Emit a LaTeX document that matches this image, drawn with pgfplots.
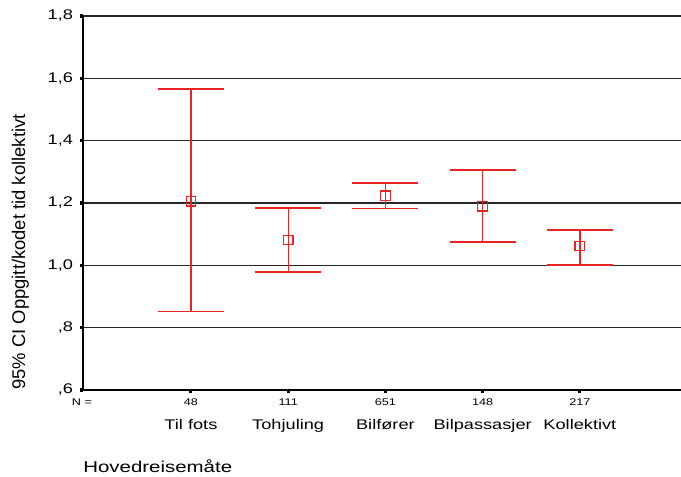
\documentclass[border=0pt]{standalone}
\usepackage{pgfplots}
\pgfplotsset{compat=1.18}
\usepackage{fontspec}
\setmainfont{Liberation Sans}[FakeStretch=1.3]
\newfontfamily\ylfont{Liberation Sans}
\definecolor{spssred}{RGB}{235,35,35}
\begin{document}
\begin{tikzpicture}
\begin{axis}[
  name=ax,
  scale only axis,
  width=448.5pt, height=280.5pt,
  xmin=-1.11, xmax=5.04,
  ymin=0.6, ymax=1.8,
  axis x line*=bottom, axis y line*=left,
  axis line style={line width=1.1pt, black, -},
  ytick={0.6,0.8,1.0,1.2,1.4,1.6,1.8},
  yticklabels={{,6},{,8},{1,0},{1,2},{1,4},{1,6},{1,8}},
  xtick={0,1,2,3,4},
  xticklabels={Til fots,Tohjuling,Bilfører,Bilpassasjer,Kollektivt},
  tick align=outside,
  major tick length=2.3pt,
  tick style={line width=2.3pt, black},
  ymajorgrids,
  grid style={line width=0.8pt, black!85},
  yticklabel style={font=\fontsize{10.5}{12}\selectfont, inner sep=0pt, anchor=east, xshift=-5pt},
  xticklabel style={font=\fontsize{10.5}{12}\selectfont, inner sep=0pt, anchor=base, yshift=-27pt},
  clip=false,
]
\addplot[only marks, color=spssred, mark=square, mark size=3.6pt, mark options={line width=0.9pt},
  error bars/.cd, y dir=both, y explicit,
  error bar style={line width=0.95pt, spssred},
  error mark=|, error mark options={line width=0.95pt, mark size=24.75pt, spssred}]
  coordinates {
  (0,1.206) += (0,0.360) -= (0,0.354)
  (1,1.081) += (0,0.103) -= (0,0.102)
  (2,1.223) += (0,0.041) -= (0,0.041)
  (3,1.190) += (0,0.116) -= (0,0.115)
  (4,1.062) += (0,0.051) -= (0,0.061)
  };
\node[font=\fontsize{7.3}{8}\selectfont] at (axis cs:0,0.6) [yshift=-9pt] {48};
\node[font=\fontsize{7.3}{8}\selectfont] at (axis cs:1,0.6) [yshift=-9pt] {111};
\node[font=\fontsize{7.3}{8}\selectfont] at (axis cs:2,0.6) [yshift=-9pt] {651};
\node[font=\fontsize{7.3}{8}\selectfont] at (axis cs:3,0.6) [yshift=-9pt] {148};
\node[font=\fontsize{7.3}{8}\selectfont] at (axis cs:4,0.6) [yshift=-9pt] {217};
\coordinate (bl) at (rel axis cs:0,0);
\coordinate (tr) at (rel axis cs:1,1);
\end{axis}
\node[font=\fontsize{7.3}{8}\selectfont] at ([xshift=-0.75pt, yshift=-9pt]bl) {N =};
\node[font=\fontsize{11.8}{13}\selectfont, anchor=base west, inner sep=0pt] at ([yshift=-62pt]bl) {Hovedreisemåte};
\node[font=\fontsize{13.8}{15}\selectfont\ylfont, rotate=90, inner sep=0pt] at ([xshift=-47pt, yshift=103.5pt]bl) {95\% CI Oppgitt/kodet tid kollektivt};
\pgfresetboundingbox
\path[use as bounding box] ([xshift=-62.25pt, yshift=-65.25pt]bl) rectangle ([yshift=12pt]tr);
\end{tikzpicture}
\end{document}
